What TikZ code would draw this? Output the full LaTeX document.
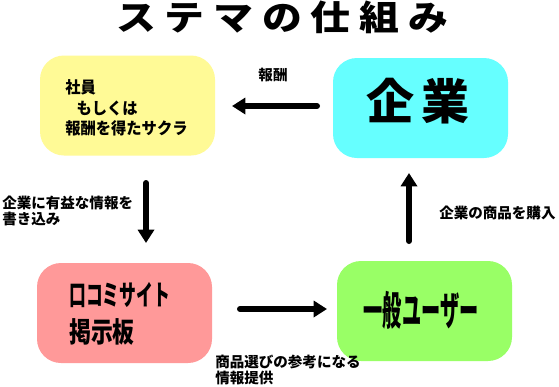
\documentclass[tikz,border=0pt]{standalone}
\usepackage{fontspec}
\usepackage{graphicx}
\setmainfont{Noto Sans CJK JP}
\usetikzlibrary{arrows.meta}
\definecolor{byellow}{HTML}{FFFA96}
\definecolor{bcyan}{HTML}{66FFFF}
\definecolor{bpink}{HTML}{FF9999}
\definecolor{bgreen}{HTML}{99FF66}
\tikzset{
  box/.style={rounded corners=18pt, minimum width=131.25pt, minimum height=75pt, inner sep=0pt, draw=none},
  flow/.style={line width=4.5pt, -{Triangle[length=10pt,width=12pt]}, line cap=round},
  lbl/.style={font=\fontsize{10.9pt}{11.8pt}\selectfont\bfseries, inner sep=0pt, align=left},
}
\begin{document}
\begin{tikzpicture}[x=0.75pt,y=-0.75pt]
\fill[white] (0,0) rectangle (559,386);
\useasboundingbox (0,0) rectangle (559,386);
% title
\node[anchor=west, inner sep=0pt, font=\fontsize{26pt}{30pt}\selectfont\bfseries] (title) at (116,17)
  {\scalebox{1.15}[1]{\addfontfeature{LetterSpace=22}ステマの仕組み}};
% boxes
\node[box, fill=byellow] (emp) at (127.5,105.5) {};
\node[box, fill=bcyan] (ent) at (420.5,108) {};
\node[box, fill=bpink] (site) at (124.5,313) {};
\node[box, fill=bgreen] (user) at (424.5,311) {};
% box texts
\node[anchor=west, inner sep=0pt, align=left, font=\fontsize{12.2pt}{15.4pt}\selectfont\bfseries] (empt) at (65,108)
  {\scalebox{0.94}[1]{社員}\\\scalebox{0.94}[1]{\hspace{9pt}もしくは}\\\scalebox{0.94}[1]{報酬を得たサクラ}};
\node[inner sep=0pt, font=\fontsize{36pt}{40pt}\selectfont\bfseries] (entt) at (418,101) {企\hspace{6pt}業};
\node[anchor=west, inner sep=0pt, align=left, font=\fontsize{21pt}{27.5pt}\selectfont\bfseries] (sitet) at (69,314)
  {\scalebox{0.6}[1]{口コミサイト}\\\scalebox{0.78}[1]{掲示板}};
\node[inner sep=0pt, font=\fontsize{30pt}{34pt}\selectfont\bfseries] (usert) at (421,310) {\scalebox{0.48}[1]{一般ユーザー}};
% connectors
\coordinate (a1s) at (317,106);
\coordinate (a1e) at (232,106);
\coordinate (a2s) at (146,183);
\coordinate (a2e) at (146,243);
\coordinate (a3s) at (240,309);
\coordinate (a3e) at (327,309);
\coordinate (a4s) at (409,241);
\coordinate (a4e) at (409,173);
\draw[flow] (a1s) -- (a1e);
\draw[flow] (a2s) -- (a2e);
\draw[flow] (a3s) -- (a3e);
\draw[flow] (a4s) -- (a4e);
% labels
\node[lbl] (l1) at (273,75) {報酬};
\node[lbl, anchor=west] (l2) at (2,211) {企業に有益な情報を\\書き込み};
\node[lbl, anchor=west] (l3) at (215,370) {商品選びの参考になる\\情報提供};
\node[lbl, anchor=west] (l4) at (439,213) {企業の商品を購入};
\end{tikzpicture}
\end{document}
